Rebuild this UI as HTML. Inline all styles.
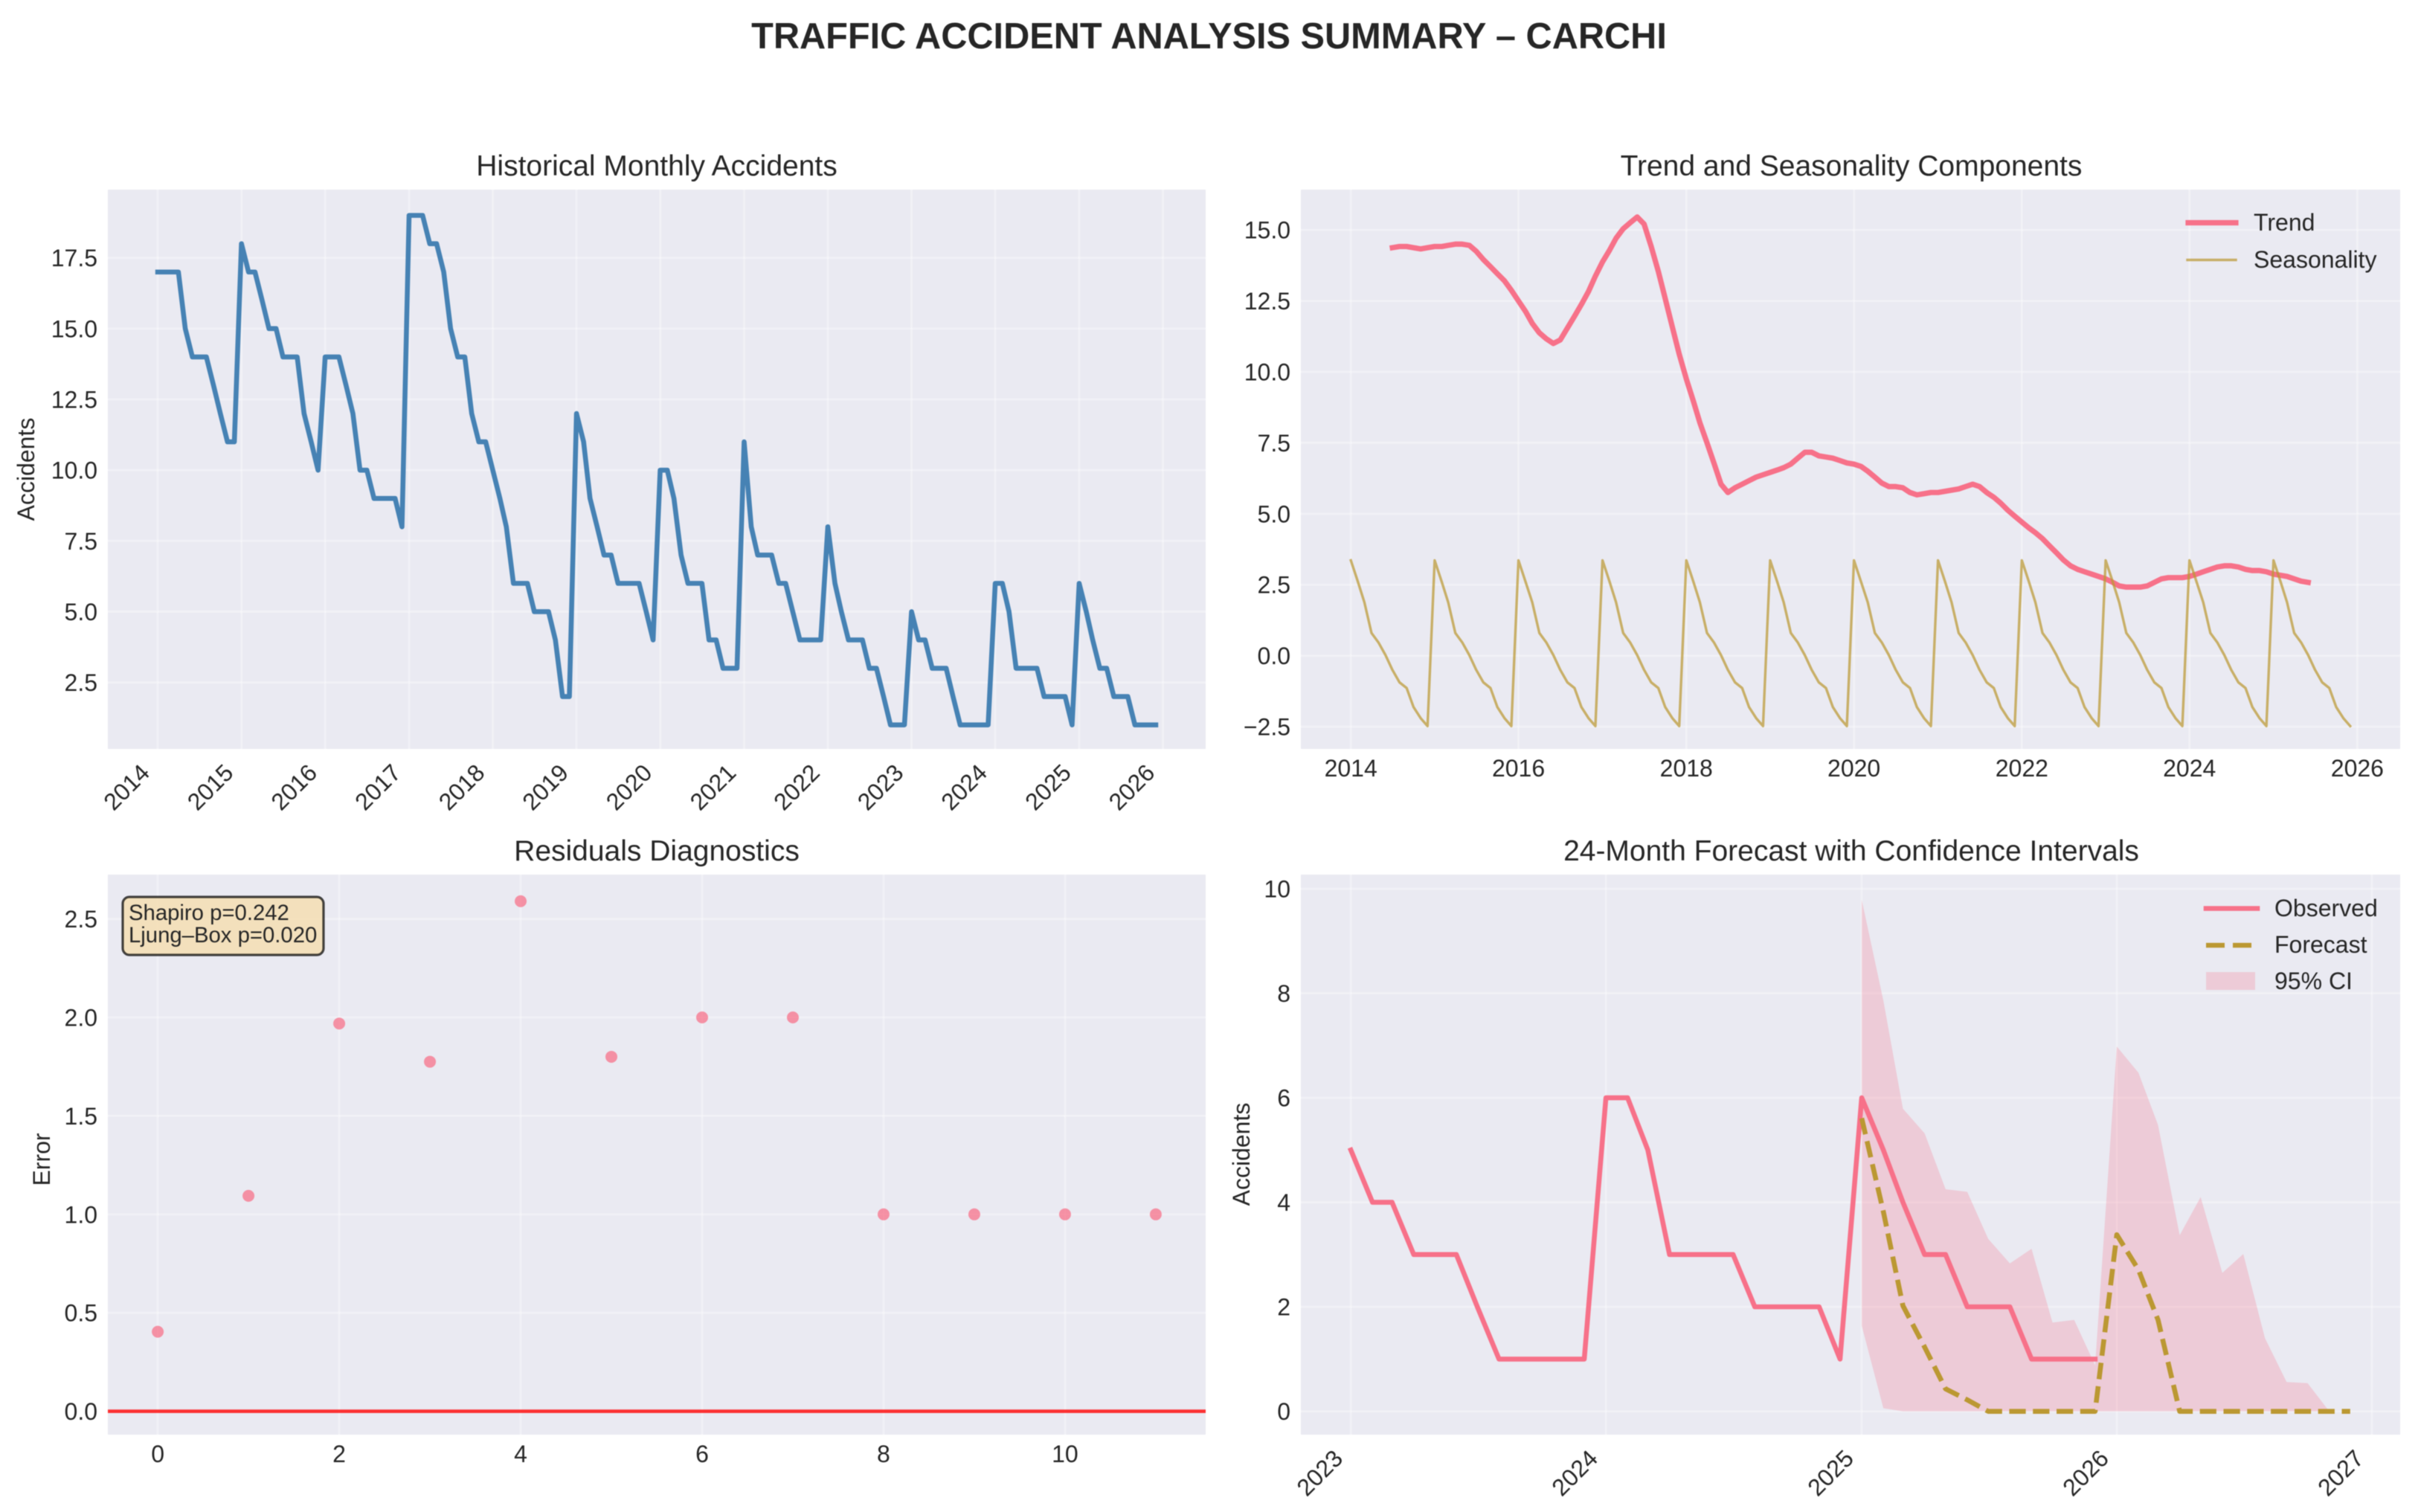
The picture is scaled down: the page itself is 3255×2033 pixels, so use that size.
<!DOCTYPE html>
<html lang="en">
<head>
<meta charset="utf-8">
<title>Traffic Accident Analysis Summary – Carchi</title>
<style>
  html,body{margin:0;padding:0;background:#fff;}
  svg{display:block;font-family:"Liberation Sans",Arial,sans-serif;fill:#262626;filter:blur(0.6px);}
</style>
</head>
<body>
<svg id="figure" xmlns="http://www.w3.org/2000/svg" width="3255" height="2033" viewBox="0 0 3255 2033">
  <rect width="3255" height="2033" fill="#ffffff"/>
  <text x="1625.5" y="65" text-anchor="middle" font-size="48.7" font-weight="bold">TRAFFIC ACCIDENT ANALYSIS SUMMARY – CARCHI</text>

  <g id="panel-history">
    <text x="883" y="236" text-anchor="middle" font-size="39">Historical Monthly Accidents</text>
    <text transform="translate(46 631) rotate(-90)" text-anchor="middle" font-size="32">Accidents</text>
  </g>
  <g id="panel-components">
    <text x="2489" y="236" text-anchor="middle" font-size="39">Trend and Seasonality Components</text>
  </g>
  <g id="panel-residuals">
    <text x="883" y="1157" text-anchor="middle" font-size="39">Residuals Diagnostics</text>
    <text transform="translate(67 1559) rotate(-90)" text-anchor="middle" font-size="32">Error</text>
  </g>
  <g id="panel-forecast">
    <text x="2489" y="1157" text-anchor="middle" font-size="39">24-Month Forecast with Confidence Intervals</text>
    <text transform="translate(1680 1552) rotate(-90)" text-anchor="middle" font-size="32">Accidents</text>
  </g>
</svg>
<script>
// ---------- Chart data ----------
const historyYearTicks = [2014,2015,2016,2017,2018,2019,2020,2021,2022,2023,2024,2025,2026];
const historyYTicks = [2.5,5,7.5,10,12.5,15,17.5];
const historyYTickLabels = ["2.5","5.0","7.5","10.0","12.5","15.0","17.5"];
const historyStart = [2014,0];
const historyValues = [
  17,17,17,17,15,14,14,14,13,12,11,11,
  18,17,17,16,15,15,14,14,14,12,11,10,
  14,14,14,13,12,10,10,9,9,9,9,8,
  19,19,19,18,18,17,15,14,14,12,11,11,
  10,9,8,6,6,6,5,5,5,4,2,2,
  12,11,9,8,7,7,6,6,6,6,5,4,
  10,10,9,7,6,6,6,4,4,3,3,3,
  11,8,7,7,7,6,6,5,4,4,4,4,
  8,6,5,4,4,4,3,3,2,1,1,1,
  5,4,4,3,3,3,2,1,1,1,1,1,
  6,6,5,3,3,3,3,2,2,2,2,1,
  6,5,4,3,3,2,2,2,1,1,1,1
];

const componentYearTicks = [2014,2016,2018,2020,2022,2024,2026];
const componentYTicks = [-2.5,0,2.5,5,7.5,10,12.5,15];
const componentYTickLabels = ["\u22122.5","0.0","2.5","5.0","7.5","10.0","12.5","15.0"];
const trendStart = [2014,6];
const trendValues = [
  14.375,14.417,14.417,14.375,14.333,14.375,
  14.417,14.417,14.458,14.5,14.5,14.458,14.25,13.958,13.708,13.458,13.208,12.875,
  12.5,12.125,11.708,11.375,11.167,11.0,11.125,11.542,11.958,12.375,12.833,13.375,
  13.875,14.292,14.708,15.042,15.25,15.458,15.208,14.417,13.542,12.583,11.583,10.625,
  9.75,8.958,8.208,7.5,6.792,6.042,5.75,5.917,6.042,6.167,6.292,6.375,
  6.458,6.542,6.625,6.75,6.958,7.167,7.167,7.042,7.0,6.958,6.875,6.792,
  6.75,6.667,6.5,6.292,6.083,5.958,5.958,5.917,5.75,5.667,5.708,5.75,
  5.75,5.792,5.833,5.875,5.958,6.042,5.958,5.75,5.583,5.375,5.125,4.917,
  4.708,4.5,4.333,4.125,3.875,3.625,3.375,3.167,3.042,2.958,2.875,2.792,
  2.708,2.583,2.458,2.417,2.417,2.417,2.458,2.583,2.708,2.75,2.75,2.75,
  2.792,2.875,2.958,3.042,3.125,3.167,3.167,3.125,3.042,3.0,3.0,2.958,
  2.875,2.833,2.792,2.708,2.625,2.583
];
const seasonalityStart = [2014,0];
const seasonalityValues = [
  3.36,2.6,1.88,0.8,0.47,0.02,-0.5,-0.94,-1.14,-1.81,-2.2,-2.48,
  3.36,2.6,1.88,0.8,0.47,0.02,-0.5,-0.94,-1.14,-1.81,-2.2,-2.48,
  3.36,2.6,1.88,0.8,0.47,0.02,-0.5,-0.94,-1.14,-1.81,-2.2,-2.48,
  3.36,2.6,1.88,0.8,0.47,0.02,-0.5,-0.94,-1.14,-1.81,-2.2,-2.48,
  3.36,2.6,1.88,0.8,0.47,0.02,-0.5,-0.94,-1.14,-1.81,-2.2,-2.48,
  3.36,2.6,1.88,0.8,0.47,0.02,-0.5,-0.94,-1.14,-1.81,-2.2,-2.48,
  3.36,2.6,1.88,0.8,0.47,0.02,-0.5,-0.94,-1.14,-1.81,-2.2,-2.48,
  3.36,2.6,1.88,0.8,0.47,0.02,-0.5,-0.94,-1.14,-1.81,-2.2,-2.48,
  3.36,2.6,1.88,0.8,0.47,0.02,-0.5,-0.94,-1.14,-1.81,-2.2,-2.48,
  3.36,2.6,1.88,0.8,0.47,0.02,-0.5,-0.94,-1.14,-1.81,-2.2,-2.48,
  3.36,2.6,1.88,0.8,0.47,0.02,-0.5,-0.94,-1.14,-1.81,-2.2,-2.48,
  3.36,2.6,1.88,0.8,0.47,0.02,-0.5,-0.94,-1.14,-1.81,-2.2,-2.48
];

const residualXTicks = [0,2,4,6,8,10];
const residualYTicks = [0,0.5,1,1.5,2,2.5];
const residualYTickLabels = ["0.0","0.5","1.0","1.5","2.0","2.5"];
const residualValues = [0.404,1.094,1.969,1.775,2.59,1.80,2.0,2.0,1.0,1.0,1.0,1.0];
const residualReference = [0];

const forecastYearTicks = [2023,2024,2025,2026,2027];
const forecastYTicks = [0,2,4,6,8,10];
const forecastYTickLabels = ["0","2","4","6","8","10"];
const observedStart = [2023,0];
const observedValues = [
  5,4,4,3,3,3,2,1,1,1,1,1,
  6,6,5,3,3,3,3,2,2,2,2,1,
  6,5,4,3,3,2,2,2,1,1,1,1
];
const forecastStart = [2025,0];
const forecastValues = [5.61,3.82,2.02,1.23,0.43,0.22,0,0,0,0,0,0,3.38,2.71,1.75,0,0,0,0,0,0,0,0,0];
const ciUpperValues = [9.79,7.86,5.79,5.32,4.25,4.2,3.3,2.83,3.11,1.7,1.75,0.88,6.98,6.48,5.48,3.37,4.1,2.65,3.01,1.4,0.56,0.54,0,0];
const ciLowerValues = [1.64,0.06,0,0,0,0,0,0,0,0,0,0,0,0,0,0,0,0,0,0,0,0,0,0];

// ---------- Helpers ----------
const SVG_NS = "http://www.w3.org/2000/svg";
const PINK = "#f77189";
const GOLD = "#bb9832";
const BLUE = "#4682b4";
const TICK_SIZE = 32;

function mk(parent, tag, props, text) {
  const el = document.createElementNS(SVG_NS, tag);
  for (const k in props) el.setAttribute(k, props[k]);
  if (text !== undefined) el.textContent = text;
  parent.appendChild(el);
  return el;
}
function linear(d0, d1, r0, r1) {
  return function (v) { return r0 + (v - d0) * (r1 - r0) / (d1 - d0); };
}
function monthTime(start, i) { return Date.UTC(start[0], start[1] + i, 1); }
function yearTime(y) { return Date.UTC(y, 0, 1); }
function dateScale(firstTime, lastTime, box) {
  const pad = (lastTime - firstTime) * 0.05;
  return linear(firstTime - pad, lastTime + pad, box.left, box.right);
}
function pathFrom(xs, ys) {
  return xs.map(function (x, i) { return (i ? "L" : "M") + x.toFixed(2) + " " + ys[i].toFixed(2); }).join("");
}
function seriesPath(start, values, xScale, yScale) {
  const xs = values.map(function (_, i) { return xScale(monthTime(start, i)); });
  const ys = values.map(function (v) { return yScale(v); });
  return pathFrom(xs, ys);
}

function drawFrame(group, name, box, xTickValues, xTickLabels, xScale, yTickValues, yTickLabels, yScale, rotated) {
  const bg = mk(group, "rect", {x: box.left, y: box.top, width: box.right - box.left, height: box.bottom - box.top, fill: "#eaeaf2"});
  
  
  xTickValues.forEach(function (tv, i) {
    const x = xScale(tv);
    const grid = mk(group, "line", {x1: x, x2: x, y1: box.top, y2: box.bottom, stroke: "#ffffff", "stroke-opacity": 0.32, "stroke-width": 2.8});
    
    
    let label;
    if (rotated) {
      const px = x - 9, py = box.bottom + 34;
      label = mk(group, "text", {x: px, y: py, "text-anchor": "end", "font-size": TICK_SIZE, transform: "rotate(-45 " + px + " " + py + ")"}, xTickLabels[i]);
    } else {
      label = mk(group, "text", {x: x, y: box.bottom + 37, "text-anchor": "middle", "font-size": TICK_SIZE}, xTickLabels[i]);
    }
    
    
  });
  yTickValues.forEach(function (tv, i) {
    const y = yScale(tv);
    const grid = mk(group, "line", {x1: box.left, x2: box.right, y1: y, y2: y, stroke: "#ffffff", "stroke-opacity": 0.32, "stroke-width": 2.8});
    
    
    const label = mk(group, "text", {x: box.left - 14, y: y + 11.5, "text-anchor": "end", "font-size": TICK_SIZE}, yTickLabels[i]);
    
    
  });
}

// ---------- Panel 1: history ----------
(function () {
  const g = document.getElementById("panel-history");
  const box = {left: 145, right: 1621, top: 255, bottom: 1007};
  const x = dateScale(monthTime(historyStart, 0), monthTime(historyStart, historyValues.length - 1), box);
  const y = linear(0.15, 19.91, box.bottom, box.top);
  drawFrame(g, "history", box, historyYearTicks.map(yearTime), historyYearTicks.map(String), x, historyYTicks, historyYTickLabels, y, true);
  const line = mk(g, "path", {d: seriesPath(historyStart, historyValues, x, y), fill: "none", stroke: BLUE, "stroke-width": 6.6, "stroke-linejoin": "round", "stroke-linecap": "square"});
  
  
})();

// ---------- Panel 2: trend + seasonality ----------
(function () {
  const g = document.getElementById("panel-components");
  const box = {left: 1749, right: 3227, top: 255, bottom: 1007};
  const x = dateScale(monthTime(seasonalityStart, 0), monthTime(seasonalityStart, seasonalityValues.length - 1), box);
  const y = linear(-3.285, 16.42, box.bottom, box.top);
  drawFrame(g, "components", box, componentYearTicks.map(yearTime), componentYearTicks.map(String), x, componentYTicks, componentYTickLabels, y, false);
  const trend = mk(g, "path", {d: seriesPath(trendStart, trendValues, x, y), fill: "none", stroke: PINK, "stroke-width": 7.2, "stroke-linejoin": "round", "stroke-linecap": "square"});
  
  
  const seas = mk(g, "path", {d: seriesPath(seasonalityStart, seasonalityValues, x, y), fill: "none", stroke: GOLD, "stroke-opacity": 0.72, "stroke-width": 3.4, "stroke-linejoin": "round", "stroke-linecap": "square"});
  
  

  const k1 = mk(g, "line", {x1: 2942, x2: 3006, y1: 299.5, y2: 299.5, stroke: PINK, "stroke-width": 7.2, "stroke-linecap": "square"});
  
  
  const t1 = mk(g, "text", {x: 3030, y: 310, "font-size": TICK_SIZE}, "Trend");
  
  
  const k2 = mk(g, "line", {x1: 2941, x2: 3006, y1: 349.5, y2: 349.5, stroke: GOLD, "stroke-opacity": 0.72, "stroke-width": 3.4, "stroke-linecap": "square"});
  
  
  const t2 = mk(g, "text", {x: 3030, y: 360, "font-size": TICK_SIZE}, "Seasonality");
  
  
})();

// ---------- Panel 3: residuals ----------
(function () {
  const g = document.getElementById("panel-residuals");
  const box = {left: 145, right: 1621, top: 1176, bottom: 1929};
  const x = linear(-0.55, residualValues.length - 0.45, box.left, box.right);
  const y = linear(-0.1186, 2.725, box.bottom, box.top);
  drawFrame(g, "residuals", box, residualXTicks, residualXTicks.map(String), x, residualYTicks, residualYTickLabels, y, false);
  residualValues.forEach(function (v, i) {
    const dot = mk(g, "circle", {cx: x(i), cy: y(v), r: 8, fill: PINK, "fill-opacity": 0.75});
    
    
  });
  residualReference.forEach(function (v) {
    const ref = mk(g, "line", {x1: box.left, x2: box.right, y1: y(v), y2: y(v), stroke: "#ff0000", "stroke-opacity": 0.8, "stroke-width": 4.6});
    
    
  });
  const note = mk(g, "rect", {x: 165, y: 1206, width: 270, height: 78, rx: 9, ry: 9, fill: "#f5deb3", "fill-opacity": 0.85, stroke: "#000000", "stroke-opacity": 0.72, "stroke-width": 3.2});
  
  
  const n1 = mk(g, "text", {x: 173, y: 1237, "font-size": 29.3}, "Shapiro p=0.242");
  
  
  const n2 = mk(g, "text", {x: 173, y: 1267, "font-size": 29.3}, "Ljung\u2013Box p=0.020");
  
  
})();

// ---------- Panel 4: forecast ----------
(function () {
  const g = document.getElementById("panel-forecast");
  const box = {left: 1749, right: 3227, top: 1176, bottom: 1929};
  const x = dateScale(monthTime(observedStart, 0), monthTime(forecastStart, forecastValues.length - 1), box);
  const y = linear(-0.446, 10.27, box.bottom, box.top);
  drawFrame(g, "forecast", box, forecastYearTicks.map(yearTime), forecastYearTicks.map(String), x, forecastYTicks, forecastYTickLabels, y, true);
  const upper = ciUpperValues.map(function (v, i) { return [x(monthTime(forecastStart, i)), y(v)]; });
  const lower = ciLowerValues.map(function (v, i) { return [x(monthTime(forecastStart, i)), y(v)]; }).reverse();
  const ring = upper.concat(lower);
  const ci = mk(g, "path", {d: pathFrom(ring.map(function (p) { return p[0]; }), ring.map(function (p) { return p[1]; })) + "Z", fill: PINK, "fill-opacity": 0.25});
  
  
  const obs = mk(g, "path", {d: seriesPath(observedStart, observedValues, x, y), fill: "none", stroke: PINK, "stroke-width": 6.6, "stroke-linejoin": "round", "stroke-linecap": "square"});
  
  
  const fc = mk(g, "path", {d: seriesPath(forecastStart, forecastValues, x, y), fill: "none", stroke: GOLD, "stroke-width": 6.6, "stroke-linejoin": "round", "stroke-dasharray": "22.2 9.6"});
  
  

  const k1 = mk(g, "line", {x1: 2966, x2: 3035, y1: 1221.5, y2: 1221.5, stroke: PINK, "stroke-width": 6.6, "stroke-linecap": "square"});
  
  
  const t1 = mk(g, "text", {x: 3058, y: 1232, "font-size": TICK_SIZE}, "Observed");
  
  
  const k2 = mk(g, "line", {x1: 2966, x2: 3027, y1: 1271, y2: 1271, stroke: GOLD, "stroke-width": 6.6, "stroke-dasharray": "25 11"});
  
  
  const t2 = mk(g, "text", {x: 3058, y: 1281, "font-size": TICK_SIZE}, "Forecast");
  
  
  const k3 = mk(g, "rect", {x: 2966, y: 1307, width: 66, height: 24, fill: PINK, "fill-opacity": 0.25});
  
  
  const t3 = mk(g, "text", {x: 3058, y: 1330, "font-size": TICK_SIZE}, "95% CI");
  
  
})();
</script>
</body>
</html>
